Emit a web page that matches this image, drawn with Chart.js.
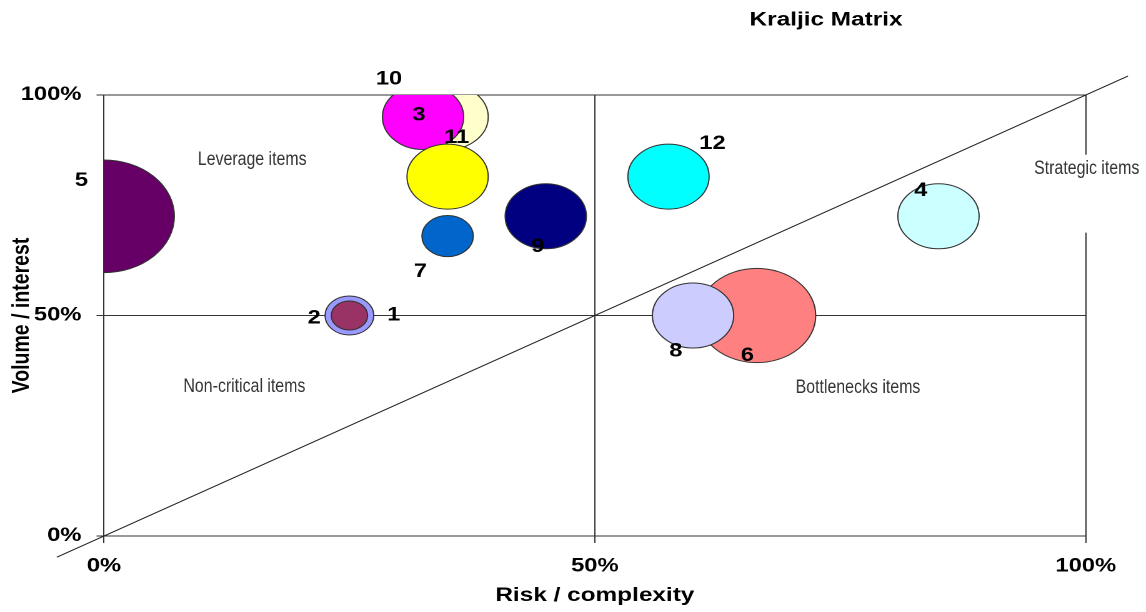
<!DOCTYPE html>
<html>
<head>
<meta charset="utf-8">
<title>Kraljic Matrix</title>
<script src="https://cdn.jsdelivr.net/npm/chart.js@4.4.1/dist/chart.umd.min.js"></script>
<style>
  html, body { margin: 0; padding: 0; background: #ffffff; overflow: hidden; }
  /* the matrix is laid out on a narrower frame and widened horizontally */
  #frame { width: 917px; height: 612px; transform: scaleX(1.2497); transform-origin: 0 0; }
  #kraljic { display: block; width: 917px; height: 612px; }
</style>
</head>
<body>
<div id="frame"><canvas id="kraljic" width="917" height="612"></canvas></div>
<script>
// Purchased items, listed in drawing order (first drawn sits underneath)
const itemIds    = ['5', '6', '10', '3', '11', '12', '9', '4', '8', '7', '1', '2'];
const riskPct    = [0, 66.5, 35, 32.5, 35, 57.5, 45, 85, 60, 35, 25, 25];
const volumePct  = [72.5, 50, 95, 95, 81.5, 81.5, 72.5, 72.5, 50, 68, 50, 50];
const itemWeight = [30, 21, 10, 10, 10, 10, 10, 10, 10, 4, 3.6, 2];
const itemColors = ['#660066', '#ff8080', '#ffffcc', '#ff00ff', '#ffff00', '#00ffff',
                    '#000080', '#ccffff', '#ccccff', '#0066cc', '#9999ff', '#993366'];

// Axis ticks (percent)
const axisTicks = [0, 50, 100];

// Diagonal separating strategic/bottleneck from the rest
const diagonalRisk   = [-4.8, 104.3];
const diagonalVolume = [-4.8, 104.3];

// Quadrant captions and where they sit in the matrix
const quadrantNames  = ['Leverage items', 'Non-critical items', 'Bottlenecks items', 'Strategic items'];
const quadrantRisk   = [15.1, 14.3, 76.8, 100.1];
const quadrantVolume = [85.3, 33.8, 33.6, 83.3];

// Pixel offsets of each item number from its bubble centre
const numberOffset = {
  '1': [35.4, 0], '2': [-28.2, 3], '3': [-3.2, -2], '4': [-14.2, -25.6],
  '5': [-18, -35.5], '6': [-7.6, 40.4], '7': [-21.8, 35.4], '8': [-13.8, 36],
  '9': [-6.3, 30.4], '10': [-46.9, -38], '11': [7.2, -38.8], '12': [35.2, -32.8]
};

const BUBBLE_SCALE = 10.28;
const bubbleData = itemIds.map((id, i) => ({
  x: riskPct[i], y: volumePct[i], r: BUBBLE_SCALE * Math.sqrt(itemWeight[i])
}));
const diagonalData = diagonalRisk.map((x, i) => ({ x, y: diagonalVolume[i] }));

const ARIAL = '"Liberation Sans", Arial, sans-serif';

const annotate = {
  id: 'annotate',
  afterDatasetsDraw(chart) {
    const ctx = chart.ctx;
    const xs = chart.scales.x, ys = chart.scales.y;

    // quadrant captions, set in a compressed face
    ctx.save();
    ctx.font = '19px ' + ARIAL;
    ctx.textAlign = 'center';
    ctx.textBaseline = 'middle';
    quadrantNames.forEach((name, i) => {
      const px = xs.getPixelForValue(quadrantRisk[i]);
      const py = ys.getPixelForValue(quadrantVolume[i]);
      ctx.save();
      ctx.translate(px, py);
      ctx.scale(0.67, 1);
      if (i === 3) {
        const w = ctx.measureText(name).width;
        ctx.fillStyle = '#ffffff';
        ctx.fillRect(-w / 2 - 8, -14, w + 16, 78);
      }
      ctx.fillStyle = '#333333';
      ctx.fillText(name, 0, 0);
      ctx.restore();
    });
    ctx.restore();

    // item numbers
    ctx.save();
    ctx.font = 'bold 19px ' + ARIAL;
    ctx.fillStyle = '#000000';
    ctx.textAlign = 'center';
    ctx.textBaseline = 'middle';
    chart.getDatasetMeta(0).data.forEach((pt, i) => {
      const off = numberOffset[itemIds[i]];
      ctx.fillText(itemIds[i], pt.x + off[0], pt.y + off[1]);
    });
    ctx.restore();

    // chart title
    ctx.save();
    ctx.font = 'bold 19.5px ' + ARIAL;
    ctx.fillStyle = '#000000';
    ctx.textAlign = 'center';
    ctx.textBaseline = 'middle';
    ctx.fillText('Kraljic Matrix', 661, 20);
    ctx.restore();
  }
};

new Chart(document.getElementById('kraljic'), {
  type: 'bubble',
  data: {
    datasets: [
      {
        label: 'Items',
        data: bubbleData,
        backgroundColor: itemColors,
        borderColor: '#333333',
        borderWidth: 1,
        clip: 0
      },
      {
        type: 'line',
        label: 'Diagonal',
        data: diagonalData,
        borderColor: '#222222',
        borderWidth: 1,
        pointRadius: 0,
        fill: false,
        clip: false
      }
    ]
  },
  options: {
    responsive: false,
    devicePixelRatio: 2,
    animation: false,
    events: [],
    layout: { autoPadding: false, padding: { top: 95, right: 48.2, bottom: 0, left: 0 } },
    plugins: { legend: { display: false }, tooltip: { enabled: false } },
    scales: {
      x: {
        type: 'linear', min: 0, max: 100,
        afterBuildTicks: s => { s.ticks = axisTicks.map(v => ({ value: v })); },
        afterFit: s => { s.height = 76; },
        grid: { color: '#333333', lineWidth: 1, tickLength: 7 },
        border: { color: '#333333' },
        ticks: {
          callback: v => v + '%', color: '#000000', padding: 12, maxRotation: 0,
          font: { family: ARIAL, size: 19, weight: 'bold' }
        },
        title: {
          display: true, text: 'Risk / complexity', color: '#000000',
          font: { family: ARIAL, size: 19.5, weight: 'bold' },
          padding: { top: 0, bottom: 4.8 }
        }
      },
      y: {
        type: 'linear', min: 0, max: 100,
        afterBuildTicks: s => { s.ticks = axisTicks.map(v => ({ value: v })); },
        afterFit: s => { s.width = 83.2; },
        grid: { color: '#333333', lineWidth: 1, tickLength: 6 },
        border: { color: '#333333' },
        ticks: {
          callback: v => v + '%', color: '#000000', padding: 12,
          font: { family: ARIAL, size: 19, weight: 'bold' }
        },
        title: {
          display: true, text: 'Volume / interest', color: '#000000',
          font: { family: ARIAL, size: 19.5, weight: 'bold' },
          padding: { top: 5.7, bottom: 0 }
        }
      }
    }
  },
  plugins: [annotate]
});
</script>
</body>
</html>
